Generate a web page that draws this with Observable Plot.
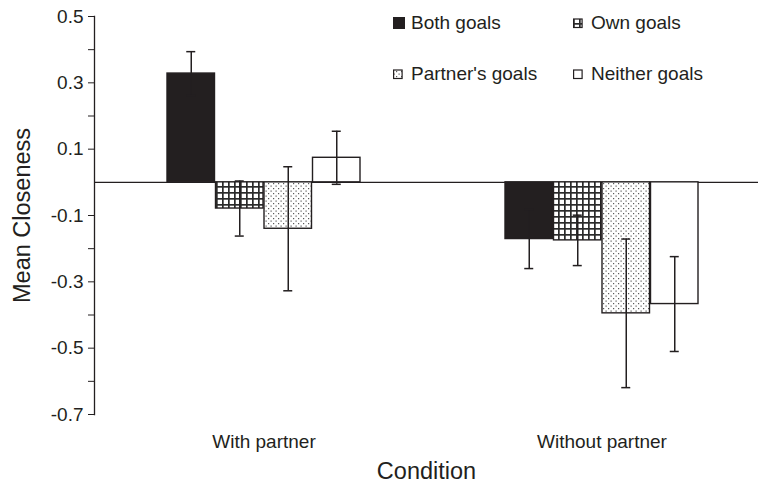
<!DOCTYPE html>
<html>
<head>
<meta charset="utf-8">
<script src="https://cdn.jsdelivr.net/npm/d3@7"></script>
<script src="https://cdn.jsdelivr.net/npm/@observablehq/plot@0.6"></script>
<style>
  body { margin: 0; background: #fff; }
  #wrap { position: relative; width: 758px; height: 483px; font-family: "Liberation Sans", Arial, sans-serif; color: #231f20; }
  .item { position: absolute; display: flex; align-items: center; height: 22px; font-size: 19px; white-space: nowrap; }
  .sw { display: inline-block; width: 18px; height: 12px; }
  .sw svg { display: block; }
</style>
</head>
<body>
<div id="wrap"></div>
<script>
// ---- Data ----
const conditions = ["With partner", "Without partner"];
const goals = ["Both goals", "Own goals", "Partner's goals", "Neither goals"];
const meansWith = [0.328, -0.079, -0.14, 0.074];
const errWith = [0.066, 0.083, 0.187, 0.08];
const meansWithout = [-0.171, -0.175, -0.395, -0.367];
const errWithout = [0.089, 0.076, 0.224, 0.143];
const yTickLabels = [0.5, 0.3, 0.1, -0.1, -0.3, -0.5, -0.7];
const yMinorTicks = [0.4, 0.2, -0.2, -0.4, -0.6];

const fills = ["#231f20", "url(#pat-own)", "url(#pat-partner)", "#ffffff"];
const ink = "#231f20";

const rows = [];
conditions.forEach((c, ci) => goals.forEach((g, gi) => rows.push({
  condition: c, goal: g, gi,
  mean: (ci ? meansWithout : meansWith)[gi],
  err: (ci ? errWithout : errWith)[gi]
})));
const caps = rows.flatMap(d => [{...d, v: d.mean + d.err}, {...d, v: d.mean - d.err}]);

// band layout of the condition scale
const xRange = [166, 699];
const padInner = 0.4277;
const bw = (xRange[1] - xRange[0]) * (1 - padInner) / (2 - padInner);
const sub = bw / 4;
const capHalf = 5;

const marks = [
  Plot.ruleY([0], {stroke: ink, strokeWidth: 1.3}),
  ...goals.map((g, i) => Plot.barY(rows.filter(d => d.gi === i), {
    x: "condition", y: "mean", fill: fills[i], stroke: ink, strokeWidth: 1.4,
    insetLeft: i * sub, insetRight: (3 - i) * sub
  })),
  ...goals.map((g, i) => Plot.ruleX(rows.filter(d => d.gi === i), {
    x: "condition", y1: d => d.mean - d.err, y2: d => d.mean + d.err,
    dx: (i + 0.5) * sub - bw / 2, stroke: ink, strokeWidth: 1.5
  })),
  ...goals.map((g, i) => Plot.tickY(caps.filter(d => d.gi === i), {
    x: "condition", y: "v", stroke: ink, strokeWidth: 1.5,
    insetLeft: (i + 0.5) * sub - capHalf, insetRight: bw - (i + 0.5) * sub - capHalf
  })),
  Plot.frame({anchor: "left", stroke: ink, strokeWidth: 1.3}),
  Plot.axisY(yTickLabels, {tickSize: 6, tickPadding: 5, tickFormat: d => d.toFixed(1),
    label: "Mean Closeness", labelArrow: "none", labelAnchor: "center", labelOffset: 81, stroke: ink, fill: ink}),
  Plot.axisY(yMinorTicks, {tickSize: 6, tickFormat: () => "", label: null, stroke: ink}),
  Plot.axisX({tickSize: 0, tickPadding: 19.5, label: "Condition", labelArrow: "none", labelAnchor: "center",
    labelOffset: 64.5, fill: ink})
];

const chart = Plot.plot({
  width: 758,
  height: 483,
  marginLeft: 94,
  marginRight: 0,
  marginTop: 16,
  marginBottom: 69,
  style: {fontFamily: "Liberation Sans, Arial, sans-serif", fontSize: "19px", color: ink, background: "white", overflow: "visible"},
  x: {domain: conditions, range: xRange, paddingInner: padInner, paddingOuter: 0},
  y: {domain: [-0.7, 0.5]},
  marks
});

chart.insertAdjacentHTML("afterbegin", `
<defs>
  <pattern id="pat-own" width="6" height="6" patternUnits="userSpaceOnUse">
    <rect width="6" height="6" fill="#fff"/>
    <rect width="6" height="1.7" fill="#2b2b2b"/>
    <rect width="1.7" height="6" fill="#2b2b2b"/>
  </pattern>
  <pattern id="pat-partner" width="5" height="5" patternUnits="userSpaceOnUse">
    <rect width="5" height="5" fill="#fff"/>
    <rect x="0.5" y="0.5" width="1.2" height="1.2" fill="#5a5a5a"/>
    <rect x="3" y="3" width="1.2" height="1.2" fill="#5a5a5a"/>
  </pattern>
</defs>`);

d3.select(chart).selectAll('[aria-label="x-axis label"] text, [aria-label="y-axis label"] text')
  .attr("font-size", 23.5);

const wrap = document.getElementById("wrap");
wrap.appendChild(chart);

// legend (2 x 2, inside the plot area)
const legendPos = [[393, 12], [573, 12], [393, 63], [573, 63]];
goals.forEach((g, i) => {
  const div = document.createElement("div");
  div.className = "item";
  div.style.left = legendPos[i][0] + "px";
  div.style.top = legendPos[i][1] + "px";
  const sw = i === 0
    ? `<rect x="0" y="0" width="12" height="12" fill="${fills[0]}"/>`
    : `<rect x="0.6" y="2" width="8.5" height="8.5" fill="${fills[i]}" stroke="${ink}" stroke-width="1.2"/>`;
  div.innerHTML = `<span class="sw"><svg width="12" height="12">${sw}</svg></span><span>${g}</span>`;
  wrap.appendChild(div);
});
</script>
</body>
</html>
